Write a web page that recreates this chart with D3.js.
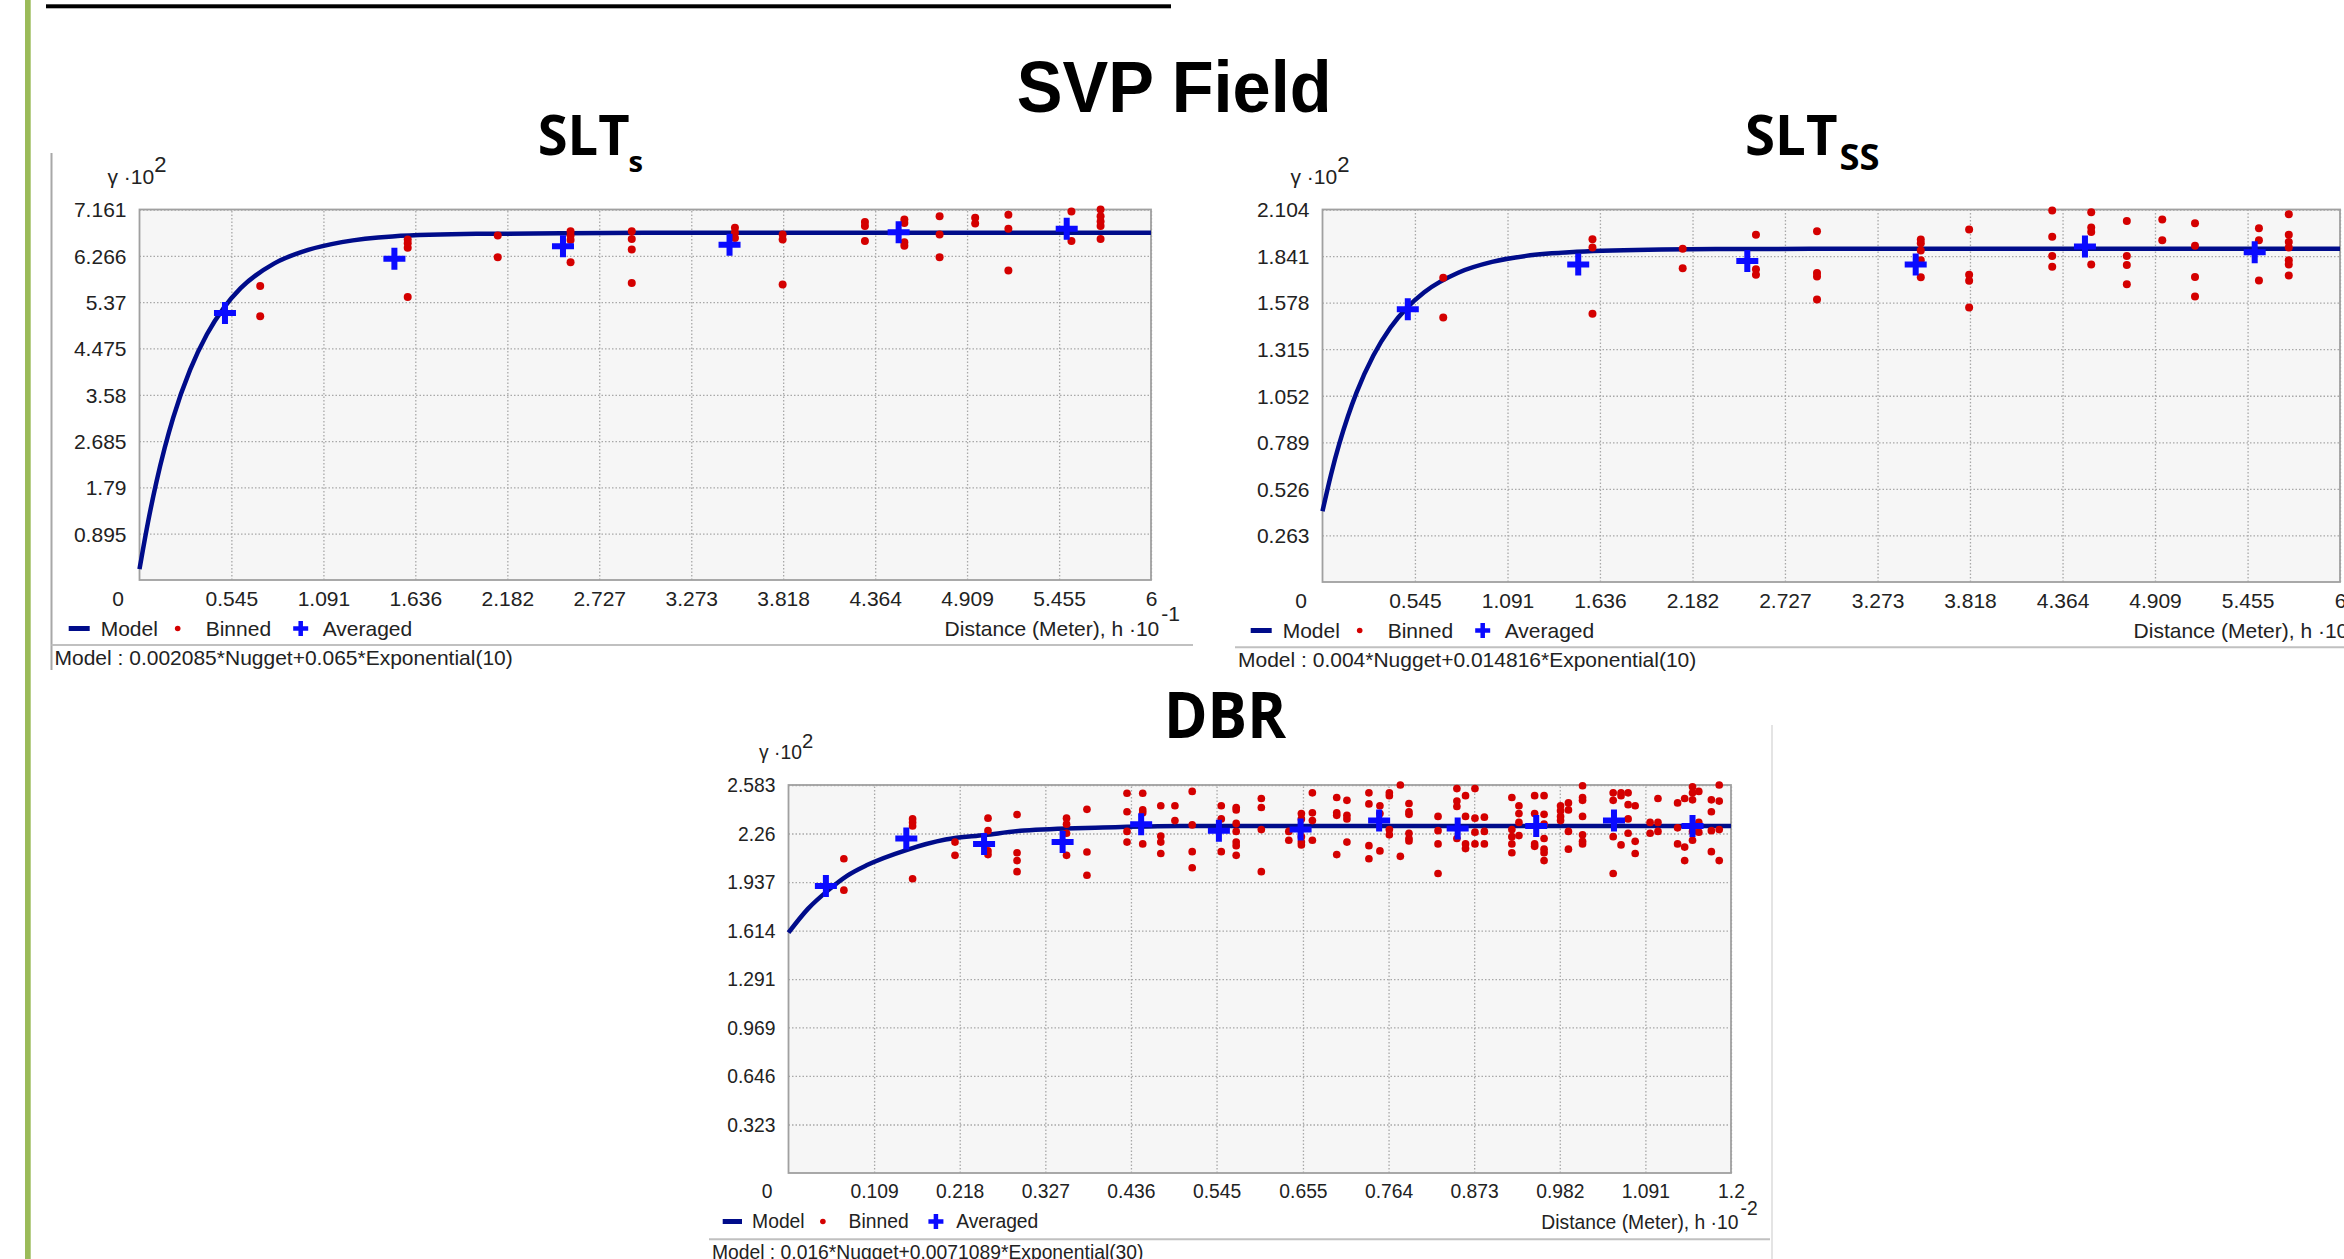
<!DOCTYPE html>
<html>
<head>
<meta charset="utf-8">
<title>SVP Field semivariograms</title>
<script src="https://cdn.jsdelivr.net/npm/d3@7"></script>
<style>
  body { margin: 0; background: #fff; }
  svg text { font-family: "Liberation Sans", Arial, sans-serif; fill: #222; }
  .grid line { stroke: #a8a8a8; stroke-width: 1.3; stroke-dasharray: 1.5 2; }
  .grid path, .lab path, .lab line { display: none; }
  text.head { font-family: "Open Sans", sans-serif; font-weight: 700; fill: #000; }
  text.big { font-family: "Liberation Sans", Arial, sans-serif; font-weight: 700; fill: #000; }
</style>
</head>
<body>
<svg id="chart" width="2344" height="1259"></svg>
<script>
// ---- tick labels ----
var xLabels6 = ["0", "0.545", "1.091", "1.636", "2.182", "2.727", "3.273", "3.818", "4.364", "4.909", "5.455", "6"];
var xLabelsDbr = ["0", "0.109", "0.218", "0.327", "0.436", "0.545", "0.655", "0.764", "0.873", "0.982", "1.091", "1.2"];
var yLabelsS = ["0.895", "1.79", "2.685", "3.58", "4.475", "5.37", "6.266", "7.161"];
var yLabelsSS = ["0.263", "0.526", "0.789", "1.052", "1.315", "1.578", "1.841", "2.104"];
var yLabelsDbr = ["0.323", "0.646", "0.969", "1.291", "1.614", "1.937", "2.26", "2.583"];

// ---- SLT_s ----
var sModelX = [0, 0.05, 0.1, 0.15, 0.2, 0.3, 0.4, 0.5, 0.6, 0.8, 1.0, 1.2, 1.5, 2.0, 2.5, 3.0, 4.0, 6.0];
var sModelY = [0.21, 1.11, 1.89, 2.56, 3.14, 4.06, 4.75, 5.26, 5.64, 6.12, 6.38, 6.53, 6.64, 6.69, 6.70, 6.71, 6.71, 6.71];
var sBinned = [
  [0.716,5.68],[0.716,5.10],
  [1.591,6.58],[1.591,6.51],[1.591,6.42],[1.591,5.47],
  [2.125,6.66],[2.125,6.24],
  [2.557,6.74],[2.557,6.66],[2.557,6.57],[2.557,6.14],
  [2.92,6.74],[2.92,6.59],[2.92,6.39],[2.92,5.74],
  [3.532,6.81],[3.532,6.71],[3.532,6.61],
  [3.815,6.68],[3.815,6.58],[3.815,5.71],
  [4.303,6.92],[4.303,6.84],[4.303,6.55],
  [4.537,6.97],[4.537,6.90],[4.537,6.53],[4.537,6.46],
  [4.746,7.03],[4.746,6.68],[4.746,6.24],
  [4.957,7.00],[4.957,6.89],
  [5.154,7.06],[5.154,6.79],[5.154,5.98],
  [5.528,7.12],[5.528,6.55],
  [5.701,7.16],[5.701,7.03],[5.701,6.93],[5.701,6.84],[5.701,6.59]
];
var sAveraged = [[0.507,5.16],[1.512,6.21],[2.512,6.45],[3.50,6.48],[4.503,6.72],[5.50,6.79]];

// ---- SLT_SS ----
var ssModelX = [0, 0.05, 0.1, 0.15, 0.2, 0.3, 0.4, 0.5, 0.6, 0.8, 1.0, 1.2, 1.5, 2.0, 2.5, 3.0, 4.0, 6.0];
var ssModelY = [0.40, 0.606, 0.784, 0.936, 1.068, 1.279, 1.436, 1.551, 1.637, 1.747, 1.808, 1.842, 1.865, 1.878, 1.881, 1.882, 1.882, 1.882];
var ssBinned = [
  [0.712,1.719],[0.712,1.494],
  [1.592,1.936],[1.592,1.889],[1.592,1.515],
  [2.124,1.883],[2.124,1.772],
  [2.556,1.961],[2.556,1.766],[2.556,1.736],
  [2.916,1.981],[2.916,1.746],[2.916,1.725],[2.916,1.596],
  [3.528,1.934],[3.528,1.914],[3.528,1.873],[3.528,1.817],[3.528,1.721],
  [3.813,1.991],[3.813,1.736],[3.813,1.701],[3.813,1.551],
  [4.303,2.098],[4.303,1.950],[4.303,1.842],[4.303,1.781],
  [4.533,2.088],[4.533,2.002],[4.533,1.977],[4.533,1.793],
  [4.743,2.039],[4.743,1.842],[4.743,1.791],[4.743,1.682],
  [4.952,2.047],[4.952,1.930],
  [5.145,2.026],[5.145,1.899],[5.145,1.723],[5.145,1.613],
  [5.522,1.998],[5.522,1.930],[5.522,1.703],
  [5.698,2.077],[5.698,1.961],[5.698,1.920],[5.698,1.889],[5.698,1.817],[5.698,1.793],[5.698,1.731]
];
var ssAveraged = [[0.503,1.541],[1.508,1.793],[2.505,1.813],[3.498,1.793],[4.496,1.895],[5.497,1.862]];

// ---- DBR ----
var dModelX = [0, 0.025, 0.05, 0.075, 0.1, 0.15, 0.2, 0.25, 0.3, 0.4, 0.5, 0.7, 1.2];
var dModelY = [1.60, 1.76, 1.88, 1.98, 2.05, 2.15, 2.22, 2.25, 2.28, 2.30, 2.31, 2.31, 2.31];
var dBinned = [
  [0.0705,2.092],[0.0705,1.883],
  [0.158,2.357],[0.158,2.334],[0.158,2.310],[0.158,1.959],
  [0.212,2.203],[0.212,2.115],
  [0.254,2.362],[0.254,2.279],[0.254,2.144],[0.254,2.120],
  [0.291,2.386],[0.291,2.132],[0.291,2.080],[0.291,2.006],
  [0.354,2.362],[0.354,2.322],[0.354,2.262],[0.354,2.115],
  [0.380,2.421],[0.380,2.137],[0.380,1.982],
  [0.431,2.528],[0.431,2.405],[0.431,2.274],[0.431,2.203],
  [0.451,2.528],[0.451,2.417],[0.451,2.398],[0.451,2.191],
  [0.474,2.445],[0.474,2.243],[0.474,2.203],[0.474,2.127],
  [0.492,2.445],[0.492,2.346],
  [0.514,2.540],[0.514,2.317],[0.514,2.139],[0.514,2.032],
  [0.551,2.445],[0.551,2.357],[0.551,2.139],
  [0.570,2.433],[0.570,2.417],[0.570,2.327],[0.570,2.274],[0.570,2.203],[0.570,2.179],[0.570,2.115],
  [0.602,2.493],[0.602,2.433],[0.602,2.286],[0.602,2.006],
  [0.637,2.274],[0.637,2.215],
  [0.653,2.393],[0.653,2.357],[0.653,2.239],[0.653,2.203],[0.653,2.184],
  [0.667,2.531],[0.667,2.398],[0.667,2.346],[0.667,2.215],
  [0.698,2.500],[0.698,2.398],[0.698,2.381],[0.698,2.120],
  [0.711,2.481],[0.711,2.381],[0.711,2.357],[0.711,2.203],
  [0.739,2.531],[0.739,2.457],[0.739,2.179],[0.739,2.092],
  [0.753,2.445],[0.753,2.393],[0.753,2.144],
  [0.765,2.531],[0.765,2.512],[0.765,2.286],[0.765,2.251],
  [0.779,2.583],[0.779,2.108],
  [0.790,2.460],[0.790,2.405],[0.790,2.388],[0.790,2.262],[0.790,2.227],[0.790,2.210],
  [0.827,2.374],[0.827,2.279],[0.827,2.191],[0.827,1.994],
  [0.851,2.559],[0.851,2.476],[0.851,2.440],[0.851,2.227],
  [0.862,2.512],[0.862,2.374],[0.862,2.191],[0.862,2.160],
  [0.874,2.559],[0.874,2.362],[0.874,2.269],[0.874,2.191],
  [0.886,2.369],[0.886,2.274],[0.886,2.191],
  [0.921,2.500],[0.921,2.286],[0.921,2.239],[0.921,2.191],[0.921,2.132],
  [0.930,2.445],[0.930,2.393],[0.930,2.334],[0.930,2.246],
  [0.950,2.512],[0.950,2.393],[0.950,2.191],[0.950,2.175],
  [0.962,2.512],[0.962,2.388],[0.962,2.322],[0.962,2.227],[0.962,2.156],[0.962,2.132],[0.962,2.080],
  [0.983,2.445],[0.983,2.412],[0.983,2.374],[0.983,2.346],
  [0.993,2.464],[0.993,2.417],[0.993,2.274],[0.993,2.156],
  [1.011,2.578],[1.011,2.500],[1.011,2.481],[1.011,2.374],[1.011,2.251],[1.011,2.208],[1.011,2.191],
  [1.050,2.531],[1.050,2.481],[1.050,2.239],[1.050,1.994],
  [1.060,2.531],[1.060,2.512],[1.060,2.184],
  [1.069,2.531],[1.069,2.452],[1.069,2.357],[1.069,2.262],
  [1.078,2.445],[1.078,2.208],[1.078,2.127],
  [1.097,2.334],[1.097,2.262],
  [1.107,2.493],[1.107,2.334],[1.107,2.274],
  [1.132,2.464],[1.132,2.298],[1.132,2.191],
  [1.141,2.493],[1.141,2.170],[1.141,2.080],
  [1.151,2.571],[1.151,2.531],[1.151,2.484],[1.151,2.274],[1.151,2.215],
  [1.159,2.540],[1.159,2.334],[1.159,2.269],
  [1.175,2.484],[1.175,2.405],[1.175,2.279],[1.175,2.139],
  [1.185,2.583],[1.185,2.476],[1.185,2.286],[1.185,2.080]
];
var dAveraged = [[0.0476,1.911],[0.150,2.227],[0.249,2.191],[0.349,2.203],[0.449,2.322],[0.548,2.279],
  [0.652,2.286],[0.752,2.346],[0.852,2.293],[0.952,2.310],[1.051,2.346],[1.151,2.310]];

var svg = d3.select("#chart");
var navy = "#000c8a", red = "#d40000", blue = "#0a0aff";

// page decoration
svg.append("rect").attr("x", 25).attr("y", 0).attr("width", 5.7).attr("height", 1259).attr("fill", "#9bbb59");
svg.append("rect").attr("x", 46).attr("y", 4.3).attr("width", 1125).attr("height", 4).attr("fill", "#000");

svg.append("text").attr("class", "big").attr("x", 1016.7).attr("y", 111.7)
  .attr("textLength", 315).attr("lengthAdjust", "spacingAndGlyphs")
  .style("font-size", "72px").text("SVP Field");

function heading(x, y, main, len, size, sub, subX, subY, subSize, subLen) {
  svg.append("text").attr("class", "head").attr("x", x).attr("y", y)
    .attr("textLength", len).attr("lengthAdjust", "spacingAndGlyphs")
    .style("font-size", size + "px").text(main);
  if (sub) {
    svg.append("text").attr("class", "head").attr("x", subX).attr("y", subY)
      .attr("textLength", subLen).attr("lengthAdjust", "spacingAndGlyphs")
      .style("font-size", subSize + "px").text(sub);
  }
}
heading(537.7, 155, "SLT", 92, 56, "s", 628.5, 171.7, 28, 14.5);
heading(1745, 155.3, "SLT", 92.5, 56, "SS", 1839.6, 169.8, 35, 40);
heading(1164, 738, "DBR", 122, 64);

function cross(sel, size, width) {
  return sel.attr("d", "M" + (-size) + ",0H" + size + "M0," + (-size) + "V" + size)
    .attr("stroke", blue).attr("stroke-width", width).attr("fill", "none");
}

function drawPanel(p) {
  var fs = p.fs, k = fs / 21;
  var x = d3.scaleLinear().domain([0, +p.xLabels[p.xLabels.length - 1]]).range([p.left, p.right]);
  var y = d3.scaleLinear().domain([0, +p.yLabels[p.yLabels.length - 1]]).range([p.bottom, p.top]);
  var xv = p.xLabels.map(Number), yv = p.yLabels.map(Number);
  var g = svg.append("g");

  g.append("rect").attr("x", p.left).attr("y", p.top)
    .attr("width", p.right - p.left).attr("height", p.bottom - p.top).attr("fill", "#f6f6f6");

  g.append("g").attr("class", "grid").attr("transform", "translate(0," + p.bottom + ")")
    .call(d3.axisBottom(x).tickValues(xv.slice(1)).tickSize(-(p.bottom - p.top)).tickFormat(""));
  g.append("g").attr("class", "grid").attr("transform", "translate(" + p.left + ",0)")
    .call(d3.axisLeft(y).tickValues(yv).tickSize(-(p.right - p.left)).tickFormat(""));

  g.append("rect").attr("x", p.left).attr("y", p.top)
    .attr("width", p.right - p.left).attr("height", p.bottom - p.top)
    .attr("fill", "none").attr("stroke", "#a0a0a0").attr("stroke-width", 1.8);

  // tick labels
  var xa = g.append("g").attr("class", "lab").attr("transform", "translate(0," + p.bottom + ")")
    .call(d3.axisBottom(x).tickValues(xv).tickSize(0).tickFormat(function(d, i) { return p.xLabels[i]; }));
  xa.attr("font-size", null).attr("font-family", null);
  xa.selectAll("text").attr("y", 18.5).attr("dy", "0.35em").style("font-size", fs + "px")
    .attr("dx", function(d, i) { return i === 0 ? -22 : 0; });

  var ya = g.append("g").attr("class", "lab").attr("transform", "translate(" + p.left + ",0)")
    .call(d3.axisLeft(y).tickValues(yv).tickSize(0).tickPadding(13).tickFormat(function(d, i) { return p.yLabels[i]; }));
  ya.attr("font-size", null).attr("font-family", null);
  ya.selectAll("text").attr("dy", "0.35em").style("font-size", fs + "px");

  // axis titles
  var gt = g.append("text").attr("x", p.left - 32 * k).attr("y", p.top - 26).style("font-size", fs + "px");
  gt.append("tspan").text("γ ·10");
  gt.append("tspan").attr("dy", -0.55 * fs).style("font-size", (fs * 1.05) + "px").text("2");

  var ly = p.bottom + 48.5;
  var dt = g.append("text").attr("x", p.right + 29 * k).attr("y", ly + 7).attr("text-anchor", "end").style("font-size", fs + "px");
  dt.append("tspan").text("Distance (Meter), h ·10");
  dt.append("tspan").attr("dx", 2).attr("dy", -0.7 * fs).text(p.xPow);

  // model curve
  var line = d3.line().x(function(d) { return x(d[0]); }).y(function(d) { return y(d[1]); }).curve(d3.curveMonotoneX);
  g.append("path").datum(p.modelX.map(function(v, i) { return [v, p.modelY[i]]; }))
    .attr("d", line).attr("fill", "none").attr("stroke", navy).attr("stroke-width", 4.5);

  g.selectAll("circle.binned").data(p.binned).enter().append("circle").attr("class", "binned")
    .attr("cx", function(d) { return x(d[0]); }).attr("cy", function(d) { return y(d[1]); })
    .attr("r", 4 * (0.5 + k / 2)).attr("fill", red);

  g.selectAll("path.avg").data(p.averaged).enter().append("path").attr("class", "avg")
    .attr("transform", function(d) { return "translate(" + x(d[0]) + "," + y(d[1]) + ")"; })
    .call(cross, 11, 6);

  // legend
  var lx = p.legendX;
  g.append("line").attr("x1", lx).attr("x2", lx + 21 * k).attr("y1", ly).attr("y2", ly)
    .attr("stroke", navy).attr("stroke-width", 5);
  g.append("text").attr("x", lx + 32 * k).attr("y", ly).attr("dy", "0.35em").style("font-size", fs + "px").text("Model");
  g.append("circle").attr("cx", lx + 109 * k).attr("cy", ly).attr("r", 2.8).attr("fill", red);
  g.append("text").attr("x", lx + 137 * k).attr("y", ly).attr("dy", "0.35em").style("font-size", fs + "px").text("Binned");
  g.append("path").attr("transform", "translate(" + (lx + 232 * k) + "," + ly + ")").call(cross, 7.5, 4.5);
  g.append("text").attr("x", lx + 254 * k).attr("y", ly).attr("dy", "0.35em").style("font-size", fs + "px").text("Averaged");

  g.append("line").attr("x1", p.sepX[0]).attr("x2", p.sepX[1]).attr("y1", p.sepY).attr("y2", p.sepY)
    .attr("stroke", "#c0c0c0").attr("stroke-width", 2);
  g.append("text").attr("x", p.sepX[0] + 3).attr("y", p.sepY + 20).style("font-size", fs + "px").text(p.caption);
}

// panel borders
svg.append("line").attr("x1", 51.5).attr("x2", 51.5).attr("y1", 153).attr("y2", 670)
  .attr("stroke", "#a8a8a8").attr("stroke-width", 2);
svg.append("line").attr("x1", 1772).attr("x2", 1772).attr("y1", 725).attr("y2", 1259)
  .attr("stroke", "#e4e4e4").attr("stroke-width", 2);

drawPanel({
  left: 139.5, right: 1151, top: 209.5, bottom: 580, fs: 21, legendX: 68.7,
  sepX: [51.5, 1193], sepY: 645, xPow: "-1",
  xLabels: xLabels6, yLabels: yLabelsS, modelX: sModelX, modelY: sModelY,
  binned: sBinned, averaged: sAveraged,
  caption: "Model : 0.002085*Nugget+0.065*Exponential(10)"
});
drawPanel({
  left: 1322.5, right: 2340, top: 209.5, bottom: 582, fs: 21, legendX: 1250.7,
  sepX: [1235, 2344], sepY: 647.3, xPow: "-1",
  xLabels: xLabels6, yLabels: yLabelsSS, modelX: ssModelX, modelY: ssModelY,
  binned: ssBinned, averaged: ssAveraged,
  caption: "Model : 0.004*Nugget+0.014816*Exponential(10)"
});
drawPanel({
  left: 788.5, right: 1731, top: 785, bottom: 1173, fs: 19.3, legendX: 722.7,
  sepX: [709, 1770], sepY: 1239.3, xPow: "-2",
  xLabels: xLabelsDbr, yLabels: yLabelsDbr, modelX: dModelX, modelY: dModelY,
  binned: dBinned, averaged: dAveraged,
  caption: "Model : 0.016*Nugget+0.0071089*Exponential(30)"
});
</script>
</body>
</html>
